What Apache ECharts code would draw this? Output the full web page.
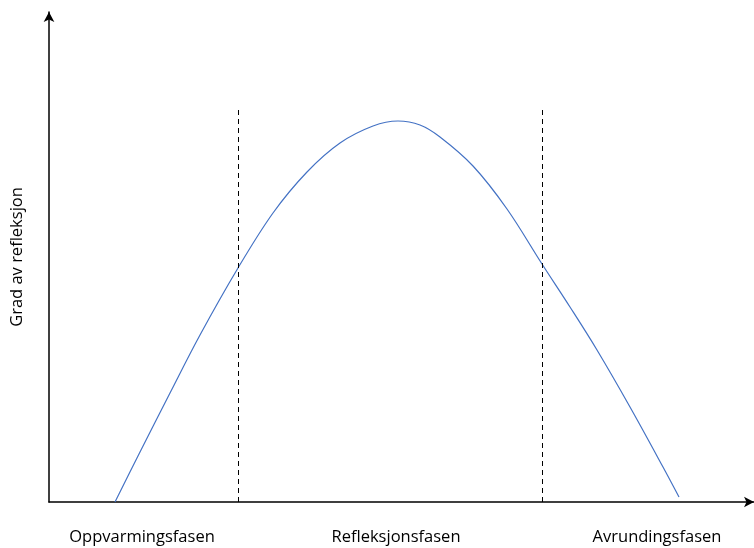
<!DOCTYPE html>
<html><head><meta charset="utf-8">
<script src="https://cdn.jsdelivr.net/npm/echarts@6/dist/echarts.min.js"></script>
<style>html,body{margin:0;padding:0;background:#fff}#c{width:754px;height:548px}</style>
</head><body><div id="c"></div>
<script>
const curveX = [66, 91, 121, 151, 189, 224, 258, 291, 324, 349, 371, 391, 424, 458, 493, 521, 548, 581, 614, 630];
const curveY = [0, 50, 109, 167, 234, 289, 330, 359, 376, 381, 377, 365, 336, 293, 238, 195, 152, 95, 35, 5];
const phaseBoundaries = [189, 493];
const boundaryTop = 395;
const phaseLabels = ['Oppvarmingsfasen', 'Refleksjonsfasen', 'Avrundingsfasen'];
const phaseLabelX = [142, 396, 657];
const yAxisName = 'Grad av refleksjon';

const chart = echarts.init(document.getElementById('c'));
const font = 'Open Sans';
chart.setOption({
  animation: false,
  grid: {left: 49, right: 0, top: 12, bottom: 46, containLabel: false, outerBoundsMode: 'none'},
  xAxis: {
    type: 'value', min: 0, max: 705,
    axisLine: {show: true, symbol: ['none', 'arrow'], symbolSize: [8, 10], lineStyle: {color: '#000', width: 1.5}},
    axisTick: {show: false}, axisLabel: {show: false}, splitLine: {show: false}
  },
  yAxis: {
    type: 'value', min: 0, max: 490,
    name: yAxisName, nameLocation: 'middle', nameRotate: 90, nameGap: 23,
    nameTextStyle: {fontFamily: font, fontSize: 16.5, color: '#000'},
    axisLine: {show: true, symbol: ['none', 'arrow'], symbolSize: [8, 10], lineStyle: {color: '#000', width: 1.5}},
    axisTick: {show: false}, axisLabel: {show: false}, splitLine: {show: false}
  },
  graphic: phaseLabels.map((t, i) => ({
    type: 'text', x: phaseLabelX[i], y: 537,
    style: {text: t, fontFamily: font, fontSize: 16.5, fill: '#000', textAlign: 'center', textVerticalAlign: 'middle'}
  })),
  series: [{
    type: 'line', data: curveX.map((x, i) => [x, curveY[i]]),
    smooth: 0.35, showSymbol: false, symbol: 'none',
    lineStyle: {color: '#4472C4', width: 1.2},
    markLine: {
      silent: true, symbol: ['none', 'none'], label: {show: false},
      lineStyle: {color: '#000', type: [5, 4], width: 1},
      data: phaseBoundaries.map(b => [{coord: [b, 0]}, {coord: [b, boundaryTop]}])
    }
  }]
});
</script></body></html>
